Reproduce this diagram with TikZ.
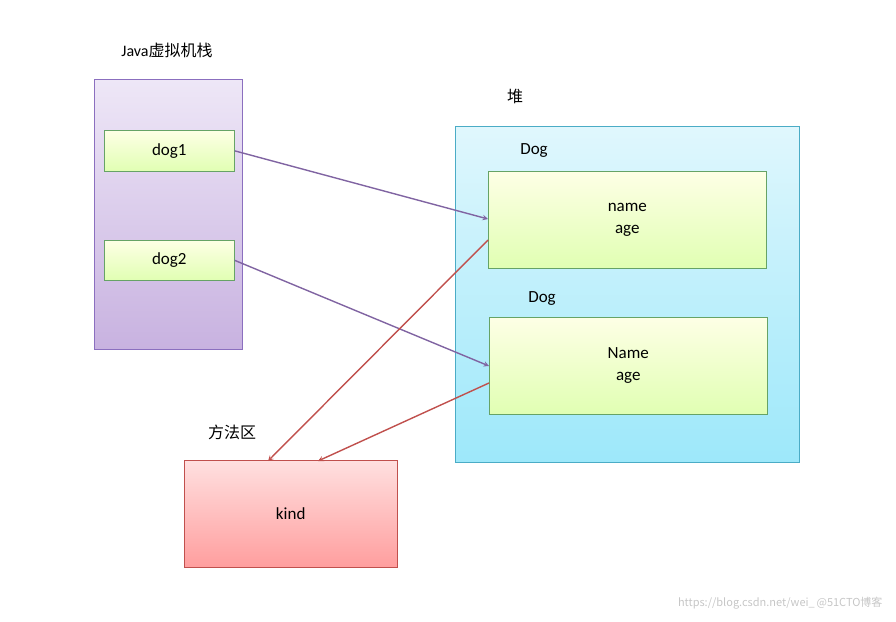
\documentclass[tikz,border=0pt]{standalone}
\usepackage{fontspec}
\setmainfont{Carlito}
\newfontfamily\cjk{Noto Sans CJK SC}
\begin{document}
\begin{tikzpicture}[x=1pt,y=-1pt,
  lbl/.style={font=\fontsize{16}{18}\selectfont\cjk,anchor=center},
  gbox/.style={draw=green!40!black!60!white,top color=green!5!yellow!10,bottom color=green!40!yellow!30,line width=0.6pt,font=\fontsize{17}{22}\selectfont,align=center},
  parr/.style={draw=violet!70!blue!60!gray,line width=1.4pt,-stealth},
  rarr/.style={draw=red!60!black!90,line width=1.4pt,-stealth}]
\useasboundingbox (0,0) rectangle (896,621);
\node[lbl,font=\fontsize{16}{18}\selectfont] at (167,50) {Java{\cjk 虚拟机栈}};
\node (stack) [draw={rgb,255:red,139;green,111;blue,191},top color={rgb,255:red,238;green,231;blue,247},bottom color={rgb,255:red,200;green,178;blue,224},minimum width=148pt,minimum height=270pt,anchor=north west,inner sep=0] at (94,79) {};
\node (d1) [gbox,minimum width=130pt,minimum height=41pt,anchor=north west,inner sep=0] at (104,130) {dog1};
\node (d2) [gbox,minimum width=130pt,minimum height=40pt,anchor=north west,inner sep=0] at (104,240) {dog2};
\node[lbl] at (515,96) {堆};
\node (heap) [draw={rgb,255:red,75;green,172;blue,198},top color={rgb,255:red,224;green,247;blue,253},bottom color={rgb,255:red,157;green,232;blue,250},minimum width=344pt,minimum height=336pt,anchor=north west,inner sep=0] at (455,126) {};
\node[font=\fontsize{17}{20}\selectfont] at (534,151) {Dog};
\node (o1) [gbox,minimum width=278pt,minimum height=97pt,anchor=north west,inner sep=0] at (488,171) {name\\age};
\node[font=\fontsize{17}{20}\selectfont] at (542,299) {Dog};
\node (o2) [gbox,minimum width=278pt,minimum height=97pt,anchor=north west,inner sep=0] at (489,317) {Name\\age};
\node[lbl] at (232,432) {方法区};
\node (kind) [draw={rgb,255:red,192;green,80;blue,77},top color={rgb,255:red,255;green,224;blue,224},bottom color={rgb,255:red,255;green,158;blue,158},minimum width=213pt,minimum height=107pt,anchor=north west,inner sep=0,font=\fontsize{17}{20}\selectfont] at (184,460) {kind};
\coordinate (k1) at (268,461);
\coordinate (k2) at (318,461);
\draw[parr,draw={rgb,255:red,128;green,100;blue,162}] (d1.east) -- (o1.west |- 0,219);
\draw[parr,draw={rgb,255:red,128;green,100;blue,162}] (d2.east) -- (o2.west |- 0,366);
\draw[rarr,draw={rgb,255:red,192;green,80;blue,77}] (o1.west |- 0,240) -- (k1);
\draw[rarr,draw={rgb,255:red,192;green,80;blue,77}] (o2.west |- 0,383) -- (k2);
\node[text=gray!45,font=\fontsize{11}{12}\selectfont\cjk,anchor=east] at (886,603) {https://blog.csdn.net/wei\_\,@51CTO博客};
\end{tikzpicture}
\end{document}
